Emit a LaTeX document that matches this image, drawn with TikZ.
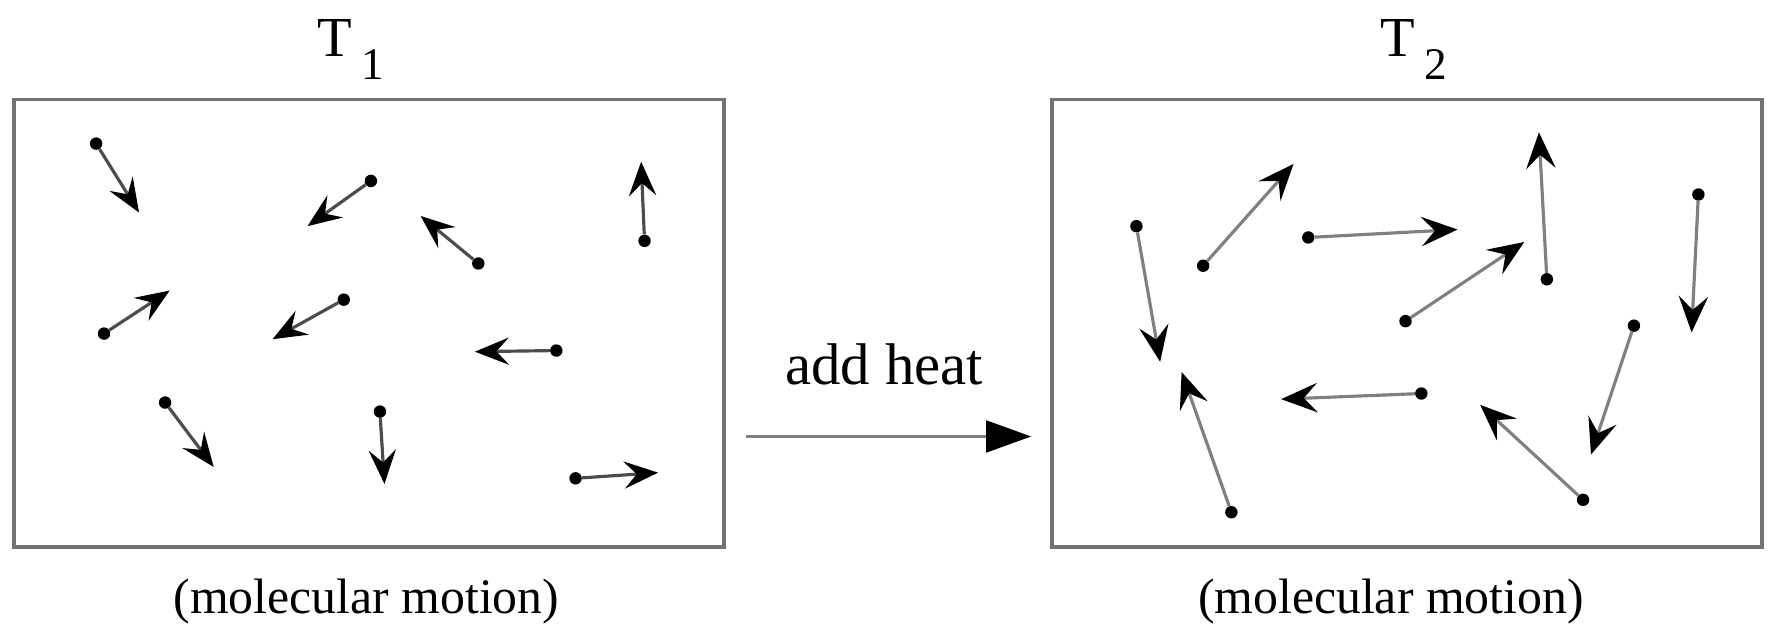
\documentclass[tikz,border=0pt]{standalone}
\usepackage{fontspec}
\setmainfont{Liberation Serif}
\usetikzlibrary{arrows.meta}
\tikzset{
  box/.style={draw=black!55, line width=3.5pt},
  dot/.style={circle, fill=black, inner sep=0pt, minimum size=11pt},
  molL/.style={draw=black!70, line width=2.8pt, -{Stealth[length=30pt,width=24pt,inset=11pt,color=black]}},
  molR/.style={draw=black!50, line width=2.8pt, -{Stealth[length=32pt,width=26pt,inset=12pt,color=black]}},
  heatarrow/.style={draw=black!50, line width=3pt, -{Triangle[length=40pt,width=28pt,color=black]}},
  lbl/.style={font=\fontsize{44}{48}\selectfont, inner sep=0pt}
}
\newcommand{\subone}[1]{\raisebox{-0.4em}{\fontsize{40}{40}\selectfont #1}}
\begin{document}
\begin{tikzpicture}[x=1pt,y=-1pt]
\useasboundingbox (0,0) rectangle (1568,555);
% boxes
\node[box, minimum width=628pt, minimum height=396pt, inner sep=0pt] (L) at (326,286) {};
\node[box, minimum width=628pt, minimum height=396pt, inner sep=0pt] (R) at (1244,286) {};
% labels
\node[lbl, font=\fontsize{50}{50}\selectfont] (t1) at (310,44) {T\,\subone{1}};
\node[lbl, font=\fontsize{50}{50}\selectfont] (t2) at (1250,44) {T\,\subone{2}};
\node[lbl] (m1) at (324,532) {(molecular motion)};
\node[lbl] (m2) at (1230,532) {(molecular motion)};
\node[lbl, font=\fontsize{52}{52}\selectfont] (heat) at (782,322) {add heat};
% heat arrow
\coordinate (hs) at (660,386);
\coordinate (he) at (912,386);
\draw[heatarrow] (hs) -- (he);
% left molecules
\node[dot] (l1) at (85,127) {};   \coordinate (l1h) at (123,188);
\node[dot] (l2) at (328,160) {};  \coordinate (l2h) at (272,200);
\node[dot] (l3) at (423,233) {};  \coordinate (l3h) at (372,191);
\node[dot] (l4) at (570,213) {};  \coordinate (l4h) at (567,143);
\node[dot] (l5) at (92,295) {};   \coordinate (l5h) at (150,257);
\node[dot] (l6) at (304,265) {};  \coordinate (l6h) at (241,300);
\node[dot] (l7) at (492,310) {};  \coordinate (l7h) at (420,311);
\node[dot] (l8) at (146,356) {};  \coordinate (l8h) at (189,413);
\node[dot] (l9) at (336,364) {};  \coordinate (l9h) at (340,428);
\node[dot] (l10) at (509,423) {}; \coordinate (l10h) at (582,418);
\foreach \i in {1,...,10} \draw[molL] (l\i) -- (l\i h);
% right molecules
\node[dot] (r1) at (1005,200) {};  \coordinate (r1h) at (1026,320);
\node[dot] (r2) at (1064,235) {};  \coordinate (r2h) at (1144,145);
\node[dot] (r3) at (1157,210) {};  \coordinate (r3h) at (1289,203);
\node[dot] (r4) at (1368,247) {};  \coordinate (r4h) at (1361,117);
\node[dot] (r5) at (1502,172) {};  \coordinate (r5h) at (1496,294);
\node[dot] (r6) at (1243,284) {};  \coordinate (r6h) at (1348,214);
\node[dot] (r7) at (1257,348) {};  \coordinate (r7h) at (1133,353);
\node[dot] (r8) at (1089,453) {};  \coordinate (r8h) at (1045,329);
\node[dot] (r9) at (1400,442) {};  \coordinate (r9h) at (1309,358);
\node[dot] (r10) at (1445,288) {}; \coordinate (r10h) at (1407,402);
\foreach \i in {1,...,10} \draw[molR] (r\i) -- (r\i h);
\end{tikzpicture}
\end{document}
